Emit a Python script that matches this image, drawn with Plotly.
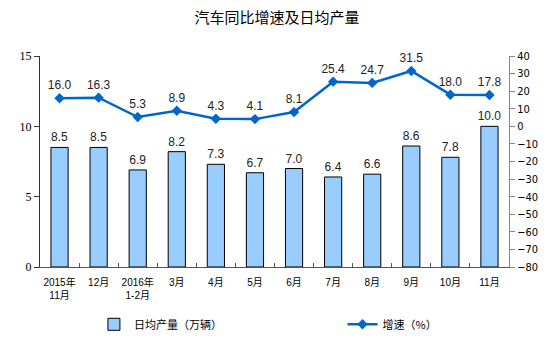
import plotly.graph_objects as go

categories = ["2015年<br>11月", "12月", "2016年<br>1-2月", "3月", "4月", "5月", "6月",
              "7月", "8月", "9月", "10月", "11月"]
daily_output = [8.5, 8.5, 6.9, 8.2, 7.3, 6.7, 7.0, 6.4, 6.6, 8.6, 7.8, 10.0]
growth = [16.0, 16.3, 5.3, 8.9, 4.3, 4.1, 8.1, 25.4, 24.7, 31.5, 18.0, 17.8]

cjk = "Noto Sans CJK SC"
fig = go.Figure()
fig.add_trace(go.Bar(
    x=categories, y=daily_output, name="日均产量（万辆）",
    marker=dict(color="#99CCFF", line=dict(color="black", width=1)),
    text=[f"{v:.1f}" for v in daily_output], textposition="outside",
    textfont=dict(family="Liberation Sans", size=12, color="#222"),
    constraintext="none",
    cliponaxis=False, yaxis="y", legend="legend",
))
fig.add_trace(go.Scatter(
    x=categories, y=growth, name="增速（%）", mode="lines+markers+text",
    line=dict(color="#0066CC", width=2.5),
    marker=dict(symbol="diamond", size=8, color="#0066CC"),
    text=[f"{v:.1f}" for v in growth], textposition="top center",
    textfont=dict(family="Liberation Sans", size=12, color="#222"),
    cliponaxis=False, yaxis="y2", legend="legend2",
))
fig.update_layout(
    width=554, height=345,
    margin=dict(l=40, r=45, t=56, b=78, autoexpand=False),
    plot_bgcolor="white", paper_bgcolor="white",
    title=dict(text="汽车同比增速及日均产量", x=0.5, xanchor="center", y=0.95, yanchor="middle",
               font=dict(family=cjk, size=15, color="black")),
    bargap=0.56,
    xaxis=dict(showline=True, linecolor="#555", linewidth=1, ticks="inside", ticklen=4,
               tickson="boundaries", tickcolor="#555", tickangle=0, ticklabelstandoff=6,
               automargin=False,
               tickfont=dict(family="Liberation Sans, Noto Sans CJK SC", size=10, color="black"),
               range=[-0.5, 11.5]),
    yaxis=dict(range=[0, 15], dtick=5, showgrid=False, showline=True, linecolor="#333",
               ticks="outside", ticklen=5, tickcolor="#333", zeroline=False, automargin=False,
               tickfont=dict(family="Liberation Serif", size=12, color="black")),
    yaxis2=dict(range=[-80, 40], dtick=10, overlaying="y", side="right", showgrid=False,
                showline=True, linecolor="#888", ticks="outside", ticklen=5, tickcolor="#888",
                zeroline=False, automargin=False,
                tickfont=dict(family="DejaVu Sans Condensed, Liberation Sans", size=11, color="black")),
    legend=dict(orientation="h", x=0.115, xanchor="left", y=0.06, yref="container", yanchor="middle",
                font=dict(family=cjk, size=11, color="black"), bgcolor="rgba(0,0,0,0)"),
    legend2=dict(orientation="h", x=0.645, xanchor="left", y=0.06, yref="container", yanchor="middle",
                 font=dict(family=cjk, size=11, color="black"), bgcolor="rgba(0,0,0,0)"),
    showlegend=True,
)
fig.write_html("out.html")
